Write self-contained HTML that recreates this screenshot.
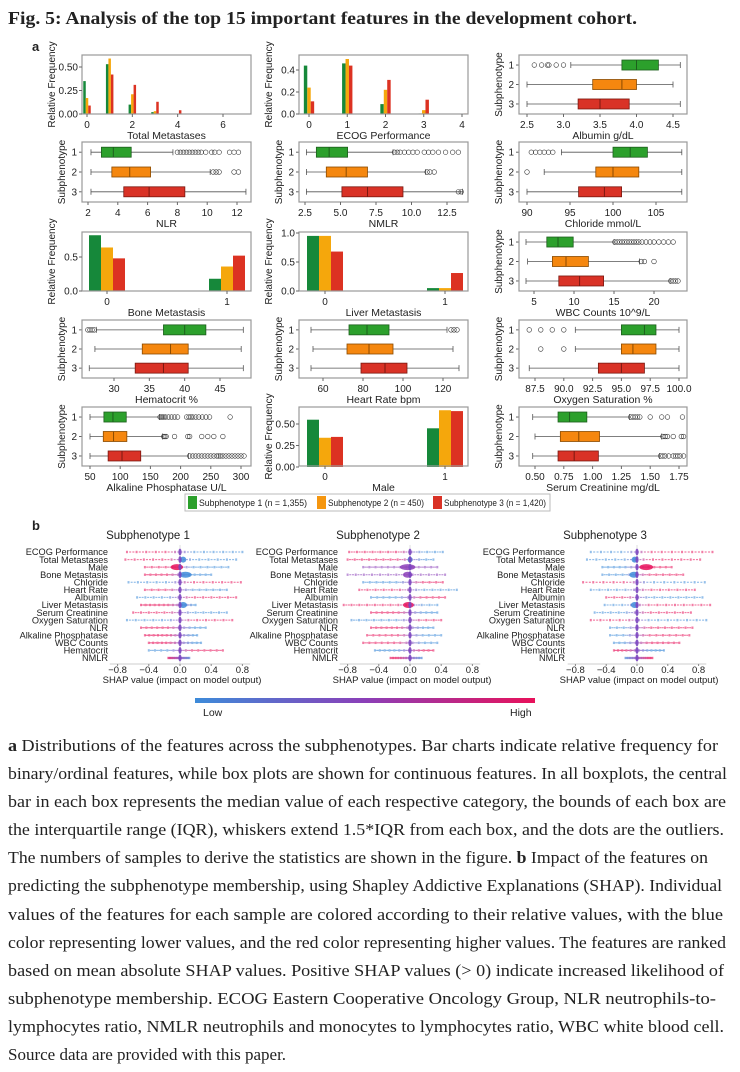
<!DOCTYPE html>
<html><head><meta charset="utf-8"><style>
body{margin:0;background:#fff}
svg{display:block}
text{font-family:"Liberation Sans",sans-serif;fill:#222}
.cap{font-family:"Liberation Serif",serif;font-size:17px;fill:#222}
</style></head><body>
<svg id="fig" width="740" height="1072" viewBox="0 0 740 1072" xmlns="http://www.w3.org/2000/svg">
<defs>
<linearGradient id="cbar" x1="0" x2="1" y1="0" y2="0"><stop offset="0" stop-color="#3d8bd9"/><stop offset="0.5" stop-color="#8b3fb8"/><stop offset="1" stop-color="#e8115a"/></linearGradient>
</defs>
<text x="8" y="24" font-size="18" font-weight="bold" style="font-family:'Liberation Serif',serif" textLength="629" lengthAdjust="spacingAndGlyphs">Fig. 5: Analysis of the top 15 important features in the development cohort.</text>
<text x="32" y="51" font-size="13" font-weight="bold">a</text>
<text x="32" y="530" font-size="13" font-weight="bold">b</text>
<g id="panels"></g>
<g id="legend">
<rect x="185" y="494" width="365" height="17" fill="#fff" stroke="#bbb"/>
<rect x="188" y="496" width="9" height="13" fill="#2ca02c"/>
<text x="199" y="506" font-size="9" textLength="108" lengthAdjust="spacingAndGlyphs">Subphenotype 1 (n = 1,355)</text>
<rect x="317" y="496" width="9" height="13" fill="#f5960f"/>
<text x="328" y="506" font-size="9" textLength="96" lengthAdjust="spacingAndGlyphs">Subphenotype 2 (n = 450)</text>
<rect x="433" y="496" width="9" height="13" fill="#d93226"/>
<text x="444" y="506" font-size="9" textLength="102" lengthAdjust="spacingAndGlyphs">Subphenotype 3 (n = 1,420)</text>
</g>
<g id="shap"></g>
<rect x="195" y="698" width="340" height="5" fill="url(#cbar)"/>
<text x="203" y="716" font-size="10.5">Low</text>
<text x="510" y="716" font-size="10.5">High</text>
<g id="caption">
<text class="cap" x="8" y="751" textLength="710" lengthAdjust="spacingAndGlyphs"><tspan font-weight="bold">a</tspan> Distributions of the features across the subphenotypes. Bar charts indicate relative frequency for</text>
<text class="cap" x="8" y="779" textLength="719" lengthAdjust="spacingAndGlyphs">binary/ordinal features, while box plots are shown for continuous features. In all boxplots, the central</text>
<text class="cap" x="8" y="807" textLength="718" lengthAdjust="spacingAndGlyphs">bar in each box represents the median value of each respective category, the bounds of each box are</text>
<text class="cap" x="8" y="835" textLength="716" lengthAdjust="spacingAndGlyphs">the interquartile range (IQR), whiskers extend 1.5*IQR from each box, and the dots are the outliers.</text>
<text class="cap" x="8" y="863" textLength="700" lengthAdjust="spacingAndGlyphs">The numbers of samples to derive the statistics are shown in the figure. <tspan font-weight="bold">b</tspan> Impact of the features on</text>
<text class="cap" x="8" y="891" textLength="714" lengthAdjust="spacingAndGlyphs">predicting the subphenotype membership, using Shapley Addictive Explanations (SHAP). Individual</text>
<text class="cap" x="8" y="920" textLength="715" lengthAdjust="spacingAndGlyphs">values of the features for each sample are colored according to their relative values, with the blue</text>
<text class="cap" x="8" y="948" textLength="718" lengthAdjust="spacingAndGlyphs">color representing lower values, and the red color representing higher values. The features are ranked</text>
<text class="cap" x="8" y="976" textLength="716" lengthAdjust="spacingAndGlyphs">based on mean absolute SHAP values. Positive SHAP values (&gt; 0) indicate increased likelihood of</text>
<text class="cap" x="8" y="1004" textLength="708" lengthAdjust="spacingAndGlyphs">subphenotype membership. ECOG Eastern Cooperative Oncology Group, NLR neutrophils-to-</text>
<text class="cap" x="8" y="1032" textLength="716" lengthAdjust="spacingAndGlyphs">lymphocytes ratio, NMLR neutrophils and monocytes to lymphocytes ratio, WBC white blood cell.</text>
<text class="cap" x="8" y="1060">Source data are provided with this paper.</text>
</g>
</svg>
<script>
// ---------- data: bar charts (relative frequency per subphenotype) ----------
const totalMetCats = [0,1,2,3,4,5,6];
const totalMetG = [0.35,0.53,0.10,0.02,0.0,0.0,0.0];
const totalMetO = [0.17,0.59,0.21,0.03,0.005,0.0,0.0];
const totalMetR = [0.09,0.42,0.31,0.13,0.04,0.005,0.0];
const ecogCats = [0,1,2,3,4];
const ecogG = [0.44,0.46,0.09,0.005,0.0];
const ecogO = [0.24,0.50,0.22,0.035,0.0];
const ecogR = [0.115,0.44,0.31,0.13,0.005];
const binCats = [0,1];
const boneG = [0.82,0.18], boneO = [0.64,0.36], boneR = [0.48,0.52];
const liverG = [0.95,0.05], liverO = [0.95,0.05], liverR = [0.68,0.31];
const maleG = [0.55,0.45], maleO = [0.34,0.66], maleR = [0.35,0.65];
// ---------- data: box plots [whiskerLow, q1, median, q3, whiskerHigh] ----------
const albuminStats = [[3.1,3.8,4.0,4.3,4.6],[2.5,3.4,3.8,4.0,4.5],[2.5,3.2,3.5,3.9,4.6]];
const albuminOut = [[2.6,2.7,2.78,2.8,2.9,3.0],[],[]];
const nlrStats = [[2.2,2.9,3.7,4.9,7.7],[2.2,3.6,4.8,6.2,10.2],[2.2,4.4,6.1,8.5,12.6]];
const nlrOut = [[8.0,8.2,8.4,8.6,8.8,9.0,9.2,9.4,9.6,9.9,10.3,10.5,10.8,11.5,11.8,12.1],[10.4,10.6,10.8,11.8,12.1],[]];
const nmlrStats = [[2.6,3.3,4.2,5.5,8.7],[2.6,4.0,5.4,6.9,11.0],[2.6,5.1,6.9,9.4,13.6]];
const nmlrOut = [[8.8,9.0,9.2,9.5,9.8,10.1,10.4,10.9,11.2,11.5,11.9,12.4,12.9,13.3],[11.1,11.3,11.6],[13.3,13.5]];
const chlorideStats = [[94,100,102,104,108],[92,98,100,103,108],[90,96,99,101,108]];
const chlorideOut = [[90.5,91,91.5,92,92.5,93],[90],[]];
const wbcStats = [[4,6.6,8,9.9,15],[4.2,7.3,9,11.8,18.2],[4,8.1,10.7,13.7,22]];
const wbcOut = [[15.1,15.4,15.7,16,16.3,16.6,16.9,17.2,17.5,17.8,18.1,18.5,19,19.5,20,20.6,21.2,21.8,22.4],[18.4,18.8,20],[22.1,22.4,22.7,23]];
const hctStats = [[27.5,37,40,43,48.3],[27.3,34,38,40.5,48],[26.5,33,37,40.5,48.3]];
const hctOut = [[26.3,26.6,26.9,27.2],[],[]];
const hrStats = [[54,73,82,93,122],[55,72,83,95,125],[54,79,91,102,128]];
const hrOut = [[124,125.5,127],[],[]];
const o2Stats = [[91,95,97,98,100],[91,95,96,98,100],[87,93,95,97,100]];
const o2Out = [[87,88,89,90],[88,90],[]];
const alpStats = [[50,73,88,110,165],[50,72,89,111,170],[50,80,103,134,213]];
const alpOut = [[166,168,170,172,175,180,185,190,195,210,214,217,220,225,230,236,242,248,282],[172,174,176,190,212,215,235,245,255,270],[215,220,225,230,235,240,245,250,255,260,263,266,270,275,280,285,290,295,300,305]];
const creatStats = [[0.48,0.70,0.80,0.95,1.32],[0.50,0.72,0.88,1.06,1.60],[0.48,0.70,0.84,1.05,1.58]];
const creatOut = [[1.33,1.35,1.37,1.39,1.41,1.5,1.6,1.65,1.78],[1.61,1.63,1.65,1.70,1.77,1.79],[1.59,1.61,1.63,1.66,1.70,1.72,1.74,1.76,1.79]];
// ---------- data: SHAP ----------
const shapFeatures = ["ECOG Performance","Total Metastases","Male","Bone Metastasis","Chloride","Heart Rate","Albumin","Liver Metastasis","Serum Creatinine","Oxygen Saturation","NLR","Alkaline Phosphatase","WBC Counts","Hematocrit","NMLR"];
const shap1Min = [-0.68,-0.70,-0.45,-0.45,-0.66,-0.45,-0.55,-0.50,-0.60,-0.68,-0.50,-0.45,-0.40,-0.40,-0.15];
const shap1Max = [0.80,0.72,0.62,0.40,0.78,0.60,0.72,0.20,0.60,0.67,0.33,0.22,0.27,0.55,0.12];
const shap1Dir = [-1,-1,-1,-1,1,-1,1,-1,-1,1,-1,-1,-1,1,-1];
const shap1Bulge = [0,0.04,-0.04,0.07,0,0,0,0.04,0,0,0,0,0,0,0];
const shap1BulgeW = [0,0.04,0.08,0.08,0,0,0,0.05,0,0,0,0,0,0,0];
const shap2Min = [-0.78,-0.80,-0.60,-0.80,-0.60,-0.65,-0.50,-0.85,-0.50,-0.75,-0.50,-0.55,-0.60,-0.45,-0.25];
const shap2Max = [0.42,0.30,0.35,0.45,0.42,0.60,0.45,0.35,0.35,0.40,0.30,0.40,0.35,0.30,0.15];
const shap2Dir = [-1,-1,0,0,1,-1,1,-1,-1,1,-1,-1,-1,1,-1];
const shap2Bulge = [0,0,-0.03,-0.03,0,0,0,-0.02,0,0,0,0,0,0,0];
const shap2BulgeW = [0,0.03,0.1,0.06,0,0,0,0.07,0,0,0,0,0,0,0];
const shap3Min = [-0.60,-0.65,-0.45,-0.45,-0.70,-0.60,-0.40,-0.42,-0.55,-0.60,-0.35,-0.35,-0.30,-0.30,-0.15];
const shap3Max = [0.98,0.82,0.45,0.60,0.88,0.75,0.85,0.95,0.70,0.90,0.72,0.68,0.55,0.35,0.20];
const shap3Dir = [1,1,1,1,-1,1,-1,1,1,-1,1,1,1,-1,1];
const shap3Bulge = [0,-0.03,0.12,-0.04,0,0,0,-0.03,0,0,0,0,0,0,0];
const shap3BulgeW = [0,0.04,0.09,0.06,0,0,0,0.05,0,0,0,0,0,0,0];
const shapTicks = [-0.8,-0.4,0.0,0.4,0.8];

const NS = "http://www.w3.org/2000/svg";
function mk(tag, attrs, parent, txt){
  const e = document.createElementNS(NS, tag);
  for (const k in attrs) e.setAttribute(k, attrs[k]);
  if (txt !== undefined) e.textContent = txt;
  parent.appendChild(e); return e;
}
const cols = [{l:82,r:251},{l:299,r:468},{l:519,r:687}];
const rows = [{t:55,b:114},{t:142,b:202},{t:232,b:291},{t:320,b:378},{t:407,b:466}];
const barCol = ['#16883a','#f5a70c','#dc3222'];
const boxFill = ['#2ca02c','#f5870f','#d93226'];
const boxEdge = ['#1d5e1d','#8a4a00','#7a1810'];
const P = document.getElementById('panels');
function lin(v1,p1,v2,p2){ return v => p1 + (v - v1) * (p2 - p1) / (v2 - v1); }
function frame(g, c, r){
  const f = mk('rect',{x:c.l,y:r.t,width:c.r-c.l,height:r.b-r.t,fill:'none',stroke:'#999','stroke-width':1.2},g);
  
  
}
function xAxis(g, c, r, ticks, xs, title, fmt){
  ticks.forEach(t=>{
    mk('line',{x1:xs(t),x2:xs(t),y1:r.b,y2:r.b+3,stroke:'#666'},g);
    const tl = mk('text',{x:xs(t),y:r.b+14,'font-size':10,'text-anchor':'middle'},g,fmt?fmt(t):String(t));
    
    
  });
  const tt = mk('text',{x:(c.l+c.r)/2,y:r.b+25,'font-size':10.5,'text-anchor':'middle'},g,title);
  
  
}
function yTitle(g, x, r, label){
  const cy = (r.t + r.b)/2;
  const t = mk('text',{x:x,y:cy,'font-size':10,'text-anchor':'middle',transform:`rotate(-90 ${x} ${cy})`},g,label);
  
  
}
function barPanel(name, ci, ri, xcal, ycal, yTicks, yFmt, cats, series, bw, title){
  const c = cols[ci], r = rows[ri];
  const g = mk('g',{},P);
  
  
  const xs = lin(...xcal), ys = lin(...ycal);
  series.forEach((vals,si)=>{
    cats.forEach((cat,i)=>{
      const x0 = xs(cat + (si-1.5)*bw), x1 = xs(cat + (si-0.5)*bw);
      const b = mk('rect',{x:x0,y:ys(vals[i]),width:x1-x0,height:ys(0)-ys(vals[i]),fill:barCol[si]},g);
      
      
    });
  });
  frame(g,c,r);
  yTicks.forEach(t=>{
    mk('line',{x1:c.l-3,x2:c.l,y1:ys(t),y2:ys(t),stroke:'#666'},g);
    const tl = mk('text',{x:c.l-4,y:ys(t)+3.5,'font-size':10,'text-anchor':'end'},g,yFmt(t));
    
    
  });
  yTitle(g, c.l-27, r, 'Relative Frequency');
  xAxis(g,c,r,cats.filter(v=>title!=='Total Metastases'||v%2===0),xs,title);
}
function boxPanel(name, ci, ri, xcal, ticks, fmt, stats, outs, title){
  const c = cols[ci], r = rows[ri];
  const g = mk('g',{},P);
  
  
  const xs = lin(...xcal);
  const h = r.b - r.t;
  stats.forEach((s,si)=>{
    const cy = r.t + h*[0.17,0.5,0.83][si];
    const w = mk('line',{x1:xs(s[0]),x2:xs(s[4]),y1:cy,y2:cy,stroke:'#555','stroke-width':0.8},g);
    
    
    [s[0],s[4]].forEach(v=>mk('line',{x1:xs(v),x2:xs(v),y1:cy-3,y2:cy+3,stroke:'#555','stroke-width':0.8},g));
    const b = mk('rect',{x:xs(s[1]),y:cy-5,width:xs(s[3])-xs(s[1]),height:10,fill:boxFill[si],stroke:boxEdge[si],'stroke-width':0.8},g);
    
    
    mk('line',{x1:xs(s[2]),x2:xs(s[2]),y1:cy-5,y2:cy+5,stroke:boxEdge[si],'stroke-width':1},g);
    outs[si].forEach(v=>{
      const o = mk('circle',{cx:xs(v),cy:cy,r:2.3,fill:'none',stroke:'#333','stroke-width':0.6},g);
      
      
    });
    mk('line',{x1:c.l-3,x2:c.l,y1:cy,y2:cy,stroke:'#666'},g);
    const tl = mk('text',{x:c.l-5,y:cy+3.5,'font-size':10,'text-anchor':'end'},g,String(si+1));
    
    
  });
  frame(g,c,r);
  yTitle(g, c.l-17, r, 'Subphenotype');
  xAxis(g,c,r,ticks,xs,title,fmt);
}
const f2 = v=>v.toFixed(2), f1 = v=>v.toFixed(1);
barPanel('total-metastases-chart',0,0,[0,87,6,223],[0,114,0.5,67],[0,0.25,0.5],f2,totalMetCats,[totalMetG,totalMetO,totalMetR],0.11,'Total Metastases');
barPanel('ecog-chart',1,0,[0,309,4,462],[0,114,0.4,70],[0,0.2,0.4],f1,ecogCats,[ecogG,ecogO,ecogR],0.09,'ECOG Performance');
boxPanel('albumin-chart',2,0,[2.5,527,4.5,673],[2.5,3.0,3.5,4.0,4.5],f1,albuminStats,albuminOut,'Albumin g/dL');
boxPanel('nlr-chart',0,1,[2,88,12,237],[2,4,6,8,10,12],null,nlrStats,nlrOut,'NLR');
boxPanel('nmlr-chart',1,1,[2.5,305,12.5,447],[2.5,5,7.5,10,12.5],f1,nmlrStats,nmlrOut,'NMLR');
boxPanel('chloride-chart',2,1,[90,527,105,656],[90,95,100,105],null,chlorideStats,chlorideOut,'Chloride mmol/L');
barPanel('bone-metastasis-chart',0,2,[0,107,1,227],[0,291,0.5,257],[0,0.5],f1,binCats,[boneG,boneO,boneR],0.1,'Bone Metastasis');
barPanel('liver-metastasis-chart',1,2,[0,325,1,445],[0,291,1,233],[0,0.5,1],f1,binCats,[liverG,liverO,liverR],0.1,'Liver Metastasis');
boxPanel('wbc-chart',2,2,[5,534,20,654],[5,10,15,20],null,wbcStats,wbcOut,'WBC Counts 10^9/L');
boxPanel('hematocrit-chart',0,3,[30,114,45,220],[30,35,40,45],null,hctStats,hctOut,'Hematocrit %');
boxPanel('heart-rate-chart',1,3,[60,323,120,443],[60,80,100,120],null,hrStats,hrOut,'Heart Rate bpm');
boxPanel('oxygen-saturation-chart',2,3,[87.5,535,100,679],[87.5,90,92.5,95,97.5,100],f1,o2Stats,o2Out,'Oxygen Saturation %');
boxPanel('alkaline-phosphatase-chart',0,4,[50,90,300,241],[50,100,150,200,250,300],null,alpStats,alpOut,'Alkaline Phosphatase U/L');
barPanel('male-chart',1,4,[0,325,1,445],[0,467,0.5,424],[0,0.25,0.5],f2,binCats,[maleG,maleO,maleR],0.1,'Male');
boxPanel('serum-creatinine-chart',2,4,[0.5,535,1.75,679],[0.5,0.75,1.0,1.25,1.5,1.75],f2,creatStats,creatOut,'Serum Creatinine mg/dL');

// ---------- SHAP ----------
const S = document.getElementById('shap');
const BLUE=[61,139,217], PURP=[139,63,184], RED=[232,17,90];
function mix(t){
  const a = t<0.5?BLUE:PURP, b = t<0.5?PURP:RED, u = t<0.5?t*2:(t-0.5)*2;
  return `rgb(${a.map((v,i)=>Math.round(v+(b[i]-v)*u)).join(',')})`;
}
function shapPlot(idx, title, x0, k, mins, maxs, dirs, bul, bulW){
  const g = mk('g',{},S);
  
  
  const xs = v => x0 + v*k;
  const y0 = 552, dy = 7.57;
  const tt = mk('text',{x:x0-32,y:539,'font-size':11.5,'text-anchor':'middle'},g,title);
  
  
  mk('line',{x1:xs(0),x2:xs(0),y1:545,y2:664,stroke:'#ddd','stroke-width':1},g);
  mk('line',{x1:xs(-0.9),x2:xs(0.9),y1:664,y2:664,stroke:'#bbb','stroke-width':0.8},g);
  shapTicks.forEach(t=>{
    mk('line',{x1:xs(t),x2:xs(t),y1:664,y2:666,stroke:'#888'},g);
    const tl = mk('text',{x:xs(t),y:673,'font-size':9.5,'text-anchor':'middle'},g,(t<0?'\u2212':'')+Math.abs(t).toFixed(1));
    
    
  });
  const al = mk('text',{x:xs(0)+2,y:683,'font-size':9.5,'text-anchor':'middle'},g,'SHAP value (impact on model output)');
  
  
  shapFeatures.forEach((f,i)=>{
    const y = y0 + i*dy;
    const lab = mk('text',{x:x0-72,y:y+3.2,'font-size':9.2,'text-anchor':'end'},g,f);
    
    
    const N = 36;
    for(let j=0;j<=N;j++){
      const v = mins[i] + (maxs[i]-mins[i])*j/N;
      let t = dirs[i]===0 ? 0.5 : (v>0 ? (dirs[i]>0?1:0) : (dirs[i]>0?0:1));
      if (dirs[i]!==0) t = 0.5 + (t-0.5)*Math.min(1, Math.abs(v)*6);
      const d = mk('rect',{x:xs(v)-1,y:y-(j%3===0?1.2:0.6),width:2,height:(j%3===0?2.4:1.2),fill:mix(t),opacity:0.55},g);
      
      
    }
    if (bulW[i]>0){
      const v = bul[i];
      let t = dirs[i]===0?0.5:((v>=0)===(dirs[i]>0)?1:0);
      const e = mk('ellipse',{cx:xs(v),cy:y,rx:bulW[i]*k,ry:3,fill:mix(t),opacity:0.85},g);
      
      
    }
    mk('ellipse',{cx:xs(0),cy:y,rx:1.6,ry:3.4,fill:'#7a45c0',opacity:0.9},g);
  });
}
shapPlot(1,'Subphenotype 1',180,78,shap1Min,shap1Max,shap1Dir,shap1Bulge,shap1BulgeW);
shapPlot(2,'Subphenotype 2',410,78,shap2Min,shap2Max,shap2Dir,shap2Bulge,shap2BulgeW);
shapPlot(3,'Subphenotype 3',637,77,shap3Min,shap3Max,shap3Dir,shap3Bulge,shap3BulgeW);
</script>
</body></html>
